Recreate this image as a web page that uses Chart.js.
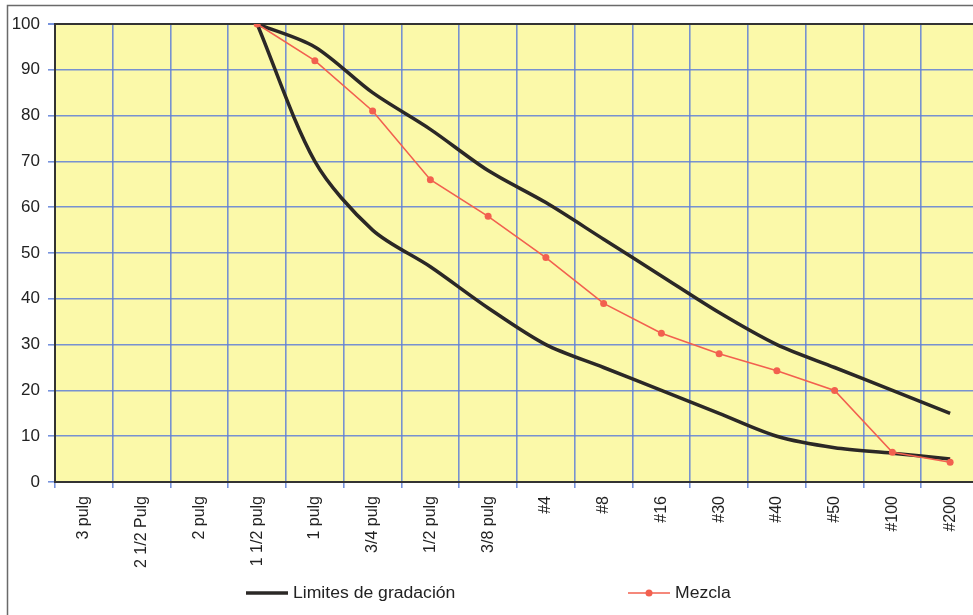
<!DOCTYPE html>
<html>
<head>
<meta charset="utf-8">
<script src="https://cdn.jsdelivr.net/npm/chart.js@4/dist/chart.umd.min.js"></script>
<style>
  html, body { margin: 0; padding: 0; background: #fff; overflow: hidden; }
  #wrap { width: 973px; height: 615px; overflow: hidden; position: relative; }
  canvas { display: block; position: absolute; left: 0; top: 0; }
</style>
</head>
<body>
<div id="wrap"><canvas id="gradChart" width="983" height="615"></canvas></div>
<script>
// Sieve sizes along the bottom axis
var categories = ["3 pulg", "2 1/2 Pulg", "2 pulg", "1 1/2 pulg", "1 pulg", "3/4 pulg",
    "1/2 pulg", "3/8 pulg", "#4", "#8", "#16", "#30", "#40", "#50", "#100", "#200"];

// Gradation band (upper and lower limits), % passing
var upperLimit = [null, null, null, 100, 95, 85, 77, 68, 61, 53, 45, 37, 30, 25, 20, 15];
var lowerLimit = [null, null, null, 100, 70, 55, 47, 38, 30, 25, 20, 15, 10, 7.5, 6.3, 5];

// Blend curve, % passing
var mezcla = [null, null, null, 100, 92, 81, 66, 58, 49, 39, 32.5, 28, 24.3, 20, 6.5, 4.3];

var FONT = "'Liberation Sans', Arial, sans-serif";
var GRID_BLUE = "rgba(95, 128, 215, 0.85)";
var DARK = "#2b2826";
var RED = "#f2604f";

// Paints the page, the outer frame and the yellow plot area
var backdrop = {
    id: "backdrop",
    beforeDraw: function (chart) {
        var ctx = chart.ctx, a = chart.chartArea;
        ctx.save();
        ctx.fillStyle = "#ffffff";
        ctx.fillRect(0, 0, chart.width, chart.height);
        ctx.strokeStyle = "#6a6a6a";
        ctx.lineWidth = 1.5;
        ctx.beginPath();
        ctx.moveTo(7.5, chart.height);
        ctx.lineTo(7.5, 5.5);
        ctx.lineTo(chart.width, 5.5);
        ctx.stroke();
        ctx.fillStyle = "#fbf9a9";
        ctx.fillRect(a.left, a.top, a.right - a.left, a.bottom - a.top);
        ctx.restore();
    }
};

// Legend under the axis labels: line swatch, optional marker, text
var bottomLegend = {
    id: "bottomLegend",
    afterDraw: function (chart) {
        var ctx = chart.ctx;
        var items = [
            { x: 246, text: "Limites de gradación", color: DARK, width: 3.5, marker: false },
            { x: 628, text: "Mezcla", color: RED, width: 1.5, marker: true }
        ];
        var y = 593;
        ctx.save();
        items.forEach(function (it) {
            ctx.strokeStyle = it.color;
            ctx.lineWidth = it.width;
            ctx.beginPath();
            ctx.moveTo(it.x, y);
            ctx.lineTo(it.x + 42, y);
            ctx.stroke();
            if (it.marker) {
                ctx.fillStyle = it.color;
                ctx.beginPath();
                ctx.arc(it.x + 21, y, 3.5, 0, Math.PI * 2);
                ctx.fill();
            }
            ctx.save();
            ctx.translate(it.x + 47, y);
            ctx.scale(1.1, 1);
            ctx.fillStyle = "#222";
            ctx.font = "16px " + FONT;
            ctx.textBaseline = "middle";
            ctx.fillText(it.text, 0, 1);
            ctx.restore();
        });
        ctx.restore();
    }
};

var ctx = document.getElementById("gradChart").getContext("2d");

var gradChart = new Chart(ctx, {
    type: "line",
    data: {
        labels: categories,
        datasets: [
            {
                label: "Mezcla",
                data: mezcla,
                borderColor: RED,
                backgroundColor: RED,
                borderWidth: 1.6,
                pointRadius: 3.5,
                pointBorderWidth: 0,
                pointBackgroundColor: RED,
                tension: 0,
                order: 0
            },
            {
                label: "Limites de gradación",
                data: upperLimit,
                borderColor: DARK,
                borderWidth: 3.5,
                pointRadius: 0,
                tension: 0.3,
                order: 1
            },
            {
                label: "Limites de gradación",
                data: lowerLimit,
                borderColor: DARK,
                borderWidth: 3.5,
                pointRadius: 0,
                tension: 0.3,
                order: 2
            }
        ]
    },
    options: {
        responsive: false,
        animation: false,
        layout: {
            padding: { left: 0, top: 24, right: 0, bottom: 0 }
        },
        scales: {
            x: {
                offset: true,
                grid: {
                    offset: true,
                    color: GRID_BLUE,
                    lineWidth: 1.6,
                    tickLength: 6,
                    tickColor: GRID_BLUE
                },
                border: { color: "#333", width: 2 },
                ticks: {
                    autoSkip: false,
                    minRotation: 90,
                    maxRotation: 90,
                    padding: 8,
                    color: "#222",
                    font: { family: FONT, size: 16 }
                },
                afterFit: function (scale) {
                    scale.height = 133;  // leaves room for the legend row
                }
            },
            y: {
                min: 0,
                max: 100,
                grid: {
                    color: function (c) {
                        return c.tick && c.tick.value === 100 ? "#333" : GRID_BLUE;
                    },
                    lineWidth: function (c) {
                        return c.tick && c.tick.value === 100 ? 2 : 1.6;
                    },
                    tickLength: 7,
                    tickColor: GRID_BLUE
                },
                border: { color: "#333", width: 2 },
                ticks: {
                    stepSize: 10,
                    padding: 8,
                    color: "#222",
                    font: { family: FONT, size: 17 }
                },
                afterFit: function (scale) {
                    scale.width = 55;
                }
            }
        },
        plugins: {
            legend: { display: false },
            tooltip: { enabled: false }
        }
    },
    plugins: [backdrop, bottomLegend]
});
</script>
</body>
</html>
